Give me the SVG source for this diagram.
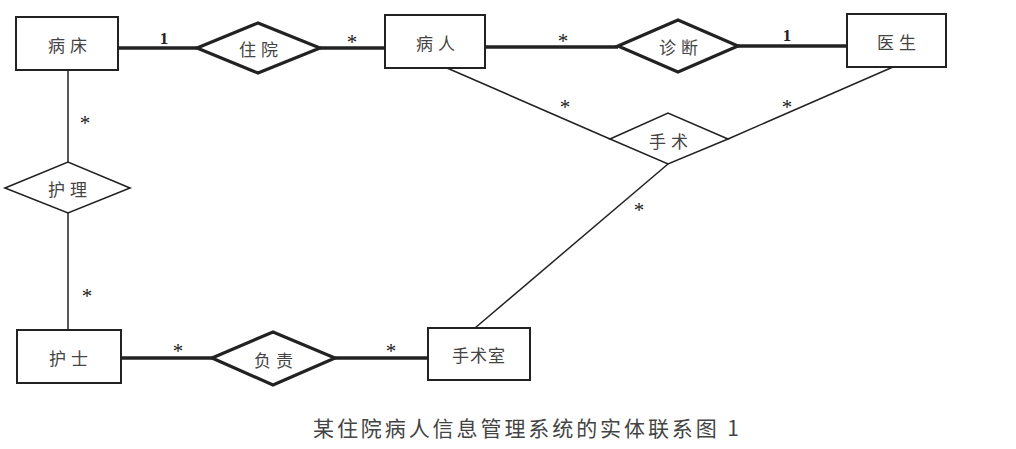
<svg xmlns="http://www.w3.org/2000/svg" width="1016" height="449" viewBox="0 0 1016 449">
<style>
.ent{fill:#fff;stroke:#222;stroke-width:2}
.relb{fill:#fff;stroke:#222;stroke-width:3.2;stroke-linejoin:miter}
.rel{fill:#fff;stroke:#222;stroke-width:1.6}
.thick{stroke:#222;stroke-width:3.4;fill:none}
.thin{stroke:#222;stroke-width:1.5;fill:none}
.t{font-family:"Noto Sans CJK SC","Noto Sans CJK TC",sans-serif;font-size:17px;fill:#444;text-anchor:middle;dominant-baseline:central;letter-spacing:5px}
.c{font-family:"Liberation Serif",serif;font-size:17px;fill:#222;text-anchor:middle;font-weight:bold}
.s{font-family:"Liberation Serif",serif;font-size:21px;fill:#222;text-anchor:middle}
.cap{font-family:"Noto Sans CJK SC",sans-serif;font-size:21px;fill:#444}
</style>
<rect width="1016" height="449" fill="#fff"/>
<g id="connectors">
<line class="thick" x1="118" y1="48" x2="197" y2="48"/>
<line class="thick" x1="320" y1="48" x2="385" y2="48"/>
<line class="thick" x1="485" y1="47" x2="618" y2="47"/>
<line class="thick" x1="738" y1="46" x2="847" y2="46"/>
<line class="thin" x1="447" y1="68" x2="610" y2="139"/>
<line class="thin" x1="893" y1="67" x2="728" y2="139"/>
<line class="thin" x1="668" y1="164" x2="475" y2="328"/>
<line class="thin" x1="68" y1="70" x2="68" y2="162"/>
<line class="thin" x1="68" y1="213" x2="68" y2="330"/>
<line class="thick" x1="121" y1="358" x2="212" y2="358"/>
<line class="thick" x1="335" y1="358" x2="428" y2="358"/>
<text class="c" x="164" y="44">1</text>
<text class="s" x="352" y="49">*</text>
<text class="s" x="563" y="48">*</text>
<text class="c" x="787" y="41">1</text>
<text class="s" x="565" y="114">*</text>
<text class="s" x="787" y="114">*</text>
<text class="s" x="639" y="217">*</text>
<text class="s" x="85" y="130">*</text>
<text class="s" x="87" y="303">*</text>
<text class="s" x="178" y="358">*</text>
<text class="s" x="391" y="358">*</text>
</g>
<g id="bingchuang"><rect class="ent" x="16" y="17" width="102" height="53"/><text class="t" x="70" y="44">病床</text></g>
<g id="zhuyuan"><polygon class="relb" points="197,48 258,23 320,48 258,73"/><text class="t" x="261" y="48">住院</text></g>
<g id="bingren"><rect class="ent" x="385" y="15" width="100" height="53"/><text class="t" x="438" y="42">病人</text></g>
<g id="zhenduan"><polygon class="relb" points="618,46 678,20 738,46 678,72"/><text class="t" x="681" y="46">诊断</text></g>
<g id="yisheng"><rect class="ent" x="847" y="14" width="99" height="53"/><text class="t" x="899" y="41">医生</text></g>
<g id="shoushu"><polygon class="rel" points="610,139 668,113 728,139 668,164"/><text class="t" x="671" y="140">手术</text></g>
<g id="huli"><polygon class="rel" points="5,188 68,162 130,188 68,213"/><text class="t" x="70" y="188">护理</text></g>
<g id="hushi"><rect class="ent" x="17" y="330" width="104" height="53"/><text class="t" x="71" y="357">护士</text></g>
<g id="fuze"><polygon class="relb" points="212,358 273,332 335,358 273,385"/><text class="t" x="276" y="359">负责</text></g>
<g id="shoushushi"><rect class="ent" x="428" y="328" width="102" height="52"/><text class="t" x="479" y="354" style="letter-spacing:1px">手术室</text></g>
<text class="cap" x="313" y="436" textLength="426" lengthAdjust="spacing">某住院病人信息管理系统的实体联系图 1</text>
</svg>
